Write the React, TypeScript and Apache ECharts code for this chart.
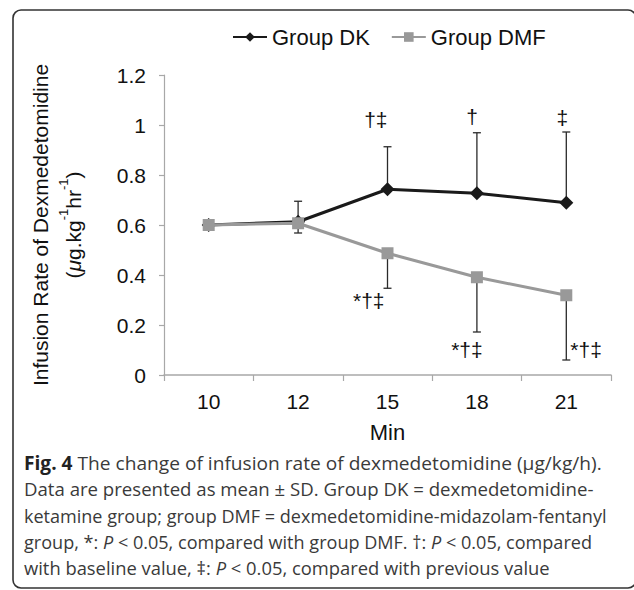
import React, { useEffect, useRef } from "react";
import * as echarts from "echarts";

// ---------- data ----------
const minutes = ["10", "12", "15", "18", "21"];
const seriesNames = ["Group DK", "Group DMF"];
const dkMean = [0.6, 0.613, 0.743, 0.727, 0.689];
const dkSD = [0, 0.082, 0.17, 0.242, 0.283];
const dmfMean = [0.6, 0.607, 0.487, 0.391, 0.319];
const dmfSD = [0, 0.039, 0.14, 0.219, 0.259];
const dkMarks = ["", "", "†‡", "†", "‡"];
const dmfMarks = ["", "", "*†‡", "*†‡", "*†‡"];
const yMin = 0;
const yMax = 1.2;
const yStep = 0.2;
const xAxisTitle = "Min";
const yAxisTitle = "Infusion Rate of Dexmedetomidine";

// caption lines: segments [text, kind] kind: "" normal, "b" bold, "i" italic
const captionLines: [string, string][][] = [
  [["Fig. 4", "b"], [" The change of infusion rate of dexmedetomidine (μg/kg/h).", ""]],
  [["Data are presented as mean ± SD. Group DK = dexmedetomidine-", ""]],
  [["ketamine group; group DMF = dexmedetomidine-midazolam-fentanyl", ""]],
  [["group, *: ", ""], ["P", "i"], [" < 0.05, compared with group DMF. †: ", ""], ["P", "i"], [" < 0.05, compared", ""]],
  [["with baseline value, ‡: ", ""], ["P", "i"], [" < 0.05, compared with previous value", ""]],
];

// ---------- layout (not data) ----------
const captionRight = [602, 594, 607, 592, 550];
const captionY = [463, 489, 515, 541, 567];
const captionX = 24;
const capFont = "Open Sans";
const capSize = 19;
const dkMarkLayout = [null, null, { dx: 0, dy: -27, align: "right" }, { dx: 1, dy: -16, align: "right" }, { dx: 2, dy: -15, align: "right" }];
const dmfMarkLayout = [null, null, { dx: -3, dy: 12, align: "right" }, { dx: -10, dy: 17, align: "center" }, { dx: 4, dy: -11, align: "left" }];

const FONT = "'Liberation Sans', Arial, sans-serif";

function measureLine(segs: [string, string][]) {
  const c = document.createElement("canvas").getContext("2d")!;
  let w = 0;
  for (const [t, k] of segs) {
    const st = k === "i" ? "italic " : "";
    const wt = k === "b" ? "bold " : "";
    c.font = `${st}${wt}${capSize}px "${capFont}"`;
    w += c.measureText(t).width;
  }
  return w;
}

export default function App() {
  const ref = useRef<HTMLDivElement>(null);
  useEffect(() => {
    if (!ref.current) return;
    const chart = echarts.init(ref.current, null, { renderer: "svg" });

    const errData = (mean: number[], sd: number[], dir: number) =>
      mean.map((m, i) => [i, m, sd[i], dir]);

    const errRender = (params: any, api: any) => {
      const i = api.value(0);
      const m = api.value(1);
      const sd = api.value(2);
      const dir = api.value(3);
      if (!sd) return { type: "group", children: [] };
      const p0 = api.coord([i, m]);
      const p1 = api.coord([i, m + dir * sd]);
      const st = { stroke: "#2a2a2a", lineWidth: 1.3 };
      return {
        type: "group",
        children: [
          { type: "line", shape: { x1: p0[0], y1: p0[1], x2: p1[0], y2: p1[1] }, style: st },
          { type: "line", shape: { x1: p1[0] - 4, y1: p1[1], x2: p1[0] + 4, y2: p1[1] }, style: st },
        ],
      };
    };

    const markRender = (marks: string[], layout: any[]) => (params: any, api: any) => {
      const idx = params.dataIndex;
      const lay = layout[idx];
      if (!marks[idx] || !lay) return { type: "group", children: [] };
      const i = api.value(0);
      const m = api.value(1);
      const sd = api.value(2);
      const dir = api.value(3);
      const p = api.coord([i, m + dir * sd]);
      return {
        type: "text",
        x: p[0] + lay.dx,
        y: p[1] + lay.dy,
        style: {
          text: marks[idx],
          fill: "#111",
          fontSize: 21,
          fontFamily: FONT,
          align: lay.align,
          verticalAlign: "middle",
        },
      };
    };

    const captionGraphics = captionLines.map((segs, li) => {
      const text = segs.map(([t, k]) => (k ? `{${k}|${t}}` : t)).join("");
      const w = measureLine(segs);
      const scaleX = (captionRight[li] - captionX) / w;
      return {
        type: "text",
        x: captionX,
        y: captionY[li],
        scaleX,
        style: {
          text,
          fill: "#3a3a3a",
          fontSize: capSize,
          fontFamily: capFont,
          verticalAlign: "middle",
          rich: {
            b: { fontWeight: "bold", fontSize: capSize, fontFamily: capFont, fill: "#222" },
            i: { fontStyle: "italic", fontSize: capSize, fontFamily: capFont, fill: "#3a3a3a" },
          },
        },
      };
    });

    chart.setOption({
      animation: false,
      backgroundColor: "#fff",
      legend: {
        data: seriesNames,
        left: 227,
        top: 21,
        itemWidth: 34,
        itemHeight: 12,
        itemGap: 21,
        textStyle: { fontSize: 22, fontFamily: FONT, color: "#111" },
      },
      grid: { left: 164, top: 75, width: 447, height: 300, containLabel: false },
      xAxis: {
        type: "category",
        data: minutes,
        boundaryGap: true,
        name: xAxisTitle,
        nameLocation: "middle",
        nameGap: 46,
        nameTextStyle: { fontSize: 22, fontFamily: FONT, color: "#111" },
        axisLine: { lineStyle: { color: "#a8a8a8", width: 1.5 } },
        axisTick: { show: true, length: 6, lineStyle: { color: "#a8a8a8", width: 1.2 } },
        axisLabel: { fontSize: 21, fontFamily: FONT, color: "#111", margin: 16 },
        splitLine: { show: false },
      },
      yAxis: {
        type: "value",
        min: yMin,
        max: yMax,
        interval: yStep,
        name: `{b|${yAxisTitle}}\n{b|(}{i|μ}{b|g.kg}{s|-1}{b|hr}{s|-1}{b|)}`,
        nameLocation: "middle",
        nameRotate: 90,
        nameGap: 74,
        nameTextStyle: {
          fontSize: 21,
          fontFamily: FONT,
          color: "#111",
          lineHeight: 33,
          rich: {
            b: { fontSize: 21, fontFamily: FONT, color: "#111", lineHeight: 33 },
            i: { fontSize: 21, fontFamily: FONT, color: "#111", fontStyle: "italic", lineHeight: 33 },
            s: { fontSize: 13, fontFamily: FONT, color: "#111", lineHeight: 20, verticalAlign: "top" },
          },
        },
        axisLine: { show: true, lineStyle: { color: "#a8a8a8", width: 1.2 } },
        axisTick: { show: true, length: 5, lineStyle: { color: "#a8a8a8", width: 1.2 } },
        axisLabel: { fontSize: 21, fontFamily: FONT, color: "#111", margin: 18 },
        splitLine: { show: false },
      },
      series: [
        {
          type: "custom",
          name: "dkErr",
          data: errData(dkMean, dkSD, 1),
          renderItem: errRender,
          encode: { x: 0, y: 1 },
          z: 1,
          silent: true,
        },
        {
          type: "custom",
          name: "dmfErr",
          data: errData(dmfMean, dmfSD, -1),
          renderItem: errRender,
          encode: { x: 0, y: 1 },
          z: 1,
          silent: true,
        },
        {
          type: "line",
          name: seriesNames[0],
          data: dkMean,
          color: "#1a1a1a",
          lineStyle: { color: "#1a1a1a", width: 3 },
          itemStyle: { color: "#1a1a1a" },
          symbol: "diamond",
          symbolSize: 14,
          z: 3,
        },
        {
          type: "line",
          name: seriesNames[1],
          data: dmfMean,
          color: "#999999",
          lineStyle: { color: "#999999", width: 3 },
          itemStyle: { color: "#999999" },
          symbol: "rect",
          symbolSize: 12,
          z: 4,
        },
        {
          type: "custom",
          name: "dkMarks",
          data: errData(dkMean, dkSD, 1),
          renderItem: markRender(dkMarks, dkMarkLayout),
          encode: { x: 0, y: 1 },
          z: 5,
          silent: true,
          clip: false,
        },
        {
          type: "custom",
          name: "dmfMarks",
          data: errData(dmfMean, dmfSD, -1),
          renderItem: markRender(dmfMarks, dmfMarkLayout),
          encode: { x: 0, y: 1 },
          z: 5,
          silent: true,
          clip: false,
        },
      ],
      graphic: [
        {
          type: "rect",
          shape: { x: 13, y: 10, width: 623, height: 578, r: 8 },
          style: { fill: "none", stroke: "#333", lineWidth: 1.6 },
          silent: true,
        },
        ...captionGraphics,
      ],
    });
    return () => chart.dispose();
  }, []);
  return (
    <div
      ref={ref}
      style={{ position: "absolute", left: 0, top: 0, width: 634, height: 590, background: "#fff" }}
    />
  );
}
